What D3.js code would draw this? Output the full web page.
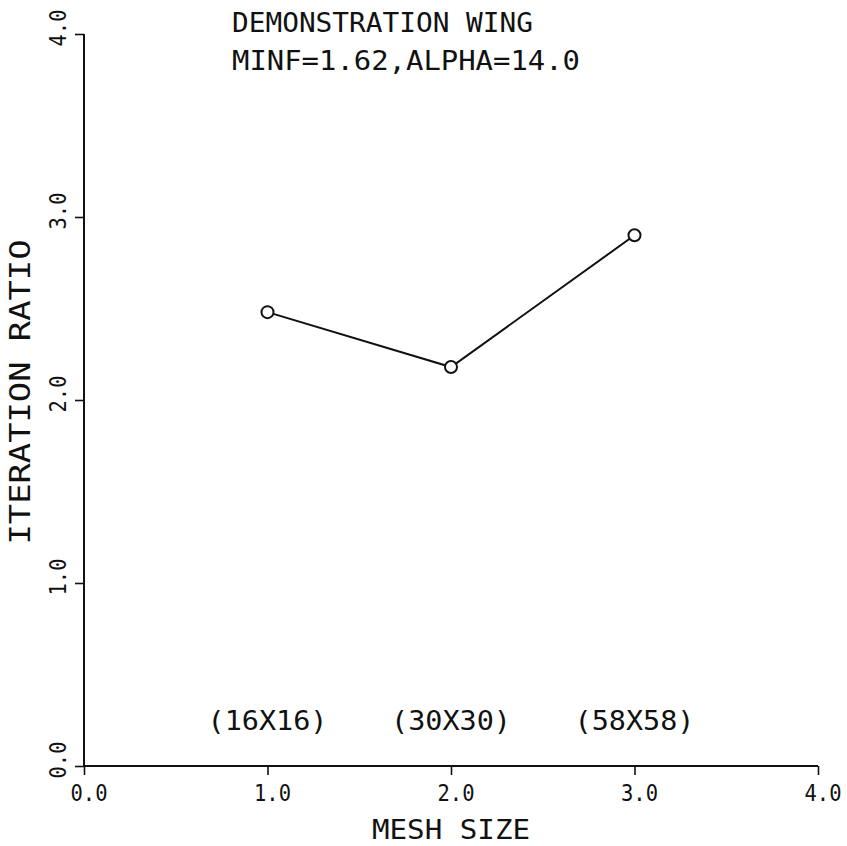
<!DOCTYPE html>
<html>
<head>
<meta charset="utf-8">
<script src="https://cdn.jsdelivr.net/npm/d3@7"></script>
<style>
  html, body { margin: 0; padding: 0; background: #fff; }
  svg text { font-family: "DejaVu Sans Mono", "Liberation Mono", monospace; fill: #111; }
</style>
</head>
<body>
<div id="chart"></div>
<script>
// -- data --
const meshX = [1, 2, 3];
const iterRatio = [2.48, 2.18, 2.90];
const meshLabels = ['(16X16)', '(30X30)', '(58X58)'];
const xTicks = [0, 1, 2, 3, 4];
const yTicks = [0, 1, 2, 3, 4];
const titleLines = ['DEMONSTRATION WING', 'MINF=1.62,ALPHA=14.0'];

const width = 847, height = 846;
const ink = '#111';

const svg = d3.select('#chart').append('svg')
  .attr('width', width)
  .attr('height', height);

const x = d3.scaleLinear().domain([0, 4]).range([84, 818]);
const y = d3.scaleLinear().domain([0, 4]).range([766, 34]);

// axes (plotter style: ticks outward, labels placed by hand)
const xAxis = d3.axisBottom(x).tickValues(xTicks).tickSize(9).tickFormat('');
const yAxis = d3.axisLeft(y).tickValues(yTicks).tickSize(9).tickFormat('');

const gx = svg.append('g').attr('transform', `translate(0,${y(0)})`).call(xAxis);
const gy = svg.append('g').attr('transform', `translate(${x(0)},0)`).call(yAxis);
[gx, gy].forEach(g => {
  g.select('.domain').attr('stroke', ink).attr('stroke-width', 2)
    .attr('d', g === gx ? `M${x(0)},0H${x(4)}` : `M0,${y(0)}V${y(4)}`);
  g.selectAll('.tick line').attr('stroke', ink).attr('stroke-width', 1.6);
});

svg.append('g').selectAll('text')
  .data(xTicks)
  .join('text')
  .attr('x', d => x(d) + 5)
  .attr('y', 801)
  .attr('text-anchor', 'middle')
  .attr('font-size', 23)
  .attr('textLength', 37)
  .attr('lengthAdjust', 'spacingAndGlyphs')
  .text(d => d.toFixed(1));

svg.append('g').selectAll('text')
  .data(yTicks)
  .join('text')
  .attr('transform', d => `translate(66,${y(d) - 6}) rotate(-90)`)
  .attr('text-anchor', 'middle')
  .attr('font-size', 23)
  .attr('textLength', 37)
  .attr('lengthAdjust', 'spacingAndGlyphs')
  .text(d => d.toFixed(1));

// axis titles
svg.append('text')
  .attr('x', x(2))
  .attr('y', 839)
  .attr('text-anchor', 'middle')
  .attr('font-size', 27)
  .attr('textLength', 158)
  .attr('lengthAdjust', 'spacingAndGlyphs')
  .text('MESH SIZE');

svg.append('text')
  .attr('transform', `translate(30,${y(2) - 8}) rotate(-90)`)
  .attr('text-anchor', 'middle')
  .attr('font-size', 28)
  .attr('textLength', 305)
  .attr('lengthAdjust', 'spacingAndGlyphs')
  .text('ITERATION RATIO');

// title block
svg.append('g').selectAll('text')
  .data(titleLines)
  .join('text')
  .attr('x', 232)
  .attr('y', (d, i) => 32 + i * 38)
  .attr('font-size', 27)
  .attr('textLength', (d, i) => i === 0 ? 301 : 348)
  .attr('lengthAdjust', 'spacingAndGlyphs')
  .text(d => d);

// mesh size annotations
svg.append('g').selectAll('text')
  .data(meshLabels)
  .join('text')
  .attr('x', (d, i) => x(meshX[i]))
  .attr('y', 730)
  .attr('text-anchor', 'middle')
  .attr('font-size', 27)
  .attr('textLength', 120)
  .attr('lengthAdjust', 'spacingAndGlyphs')
  .text(d => d);

// series
const pts = meshX.map((m, i) => [m, iterRatio[i]]);
svg.append('path')
  .datum(pts)
  .attr('fill', 'none')
  .attr('stroke', ink)
  .attr('stroke-width', 2)
  .attr('d', d3.line().x(d => x(d[0])).y(d => y(d[1])));

svg.append('g').selectAll('circle')
  .data(pts)
  .join('circle')
  .attr('cx', d => x(d[0]))
  .attr('cy', d => y(d[1]))
  .attr('r', 6)
  .attr('fill', '#fff')
  .attr('stroke', ink)
  .attr('stroke-width', 2);
</script>
</body>
</html>
